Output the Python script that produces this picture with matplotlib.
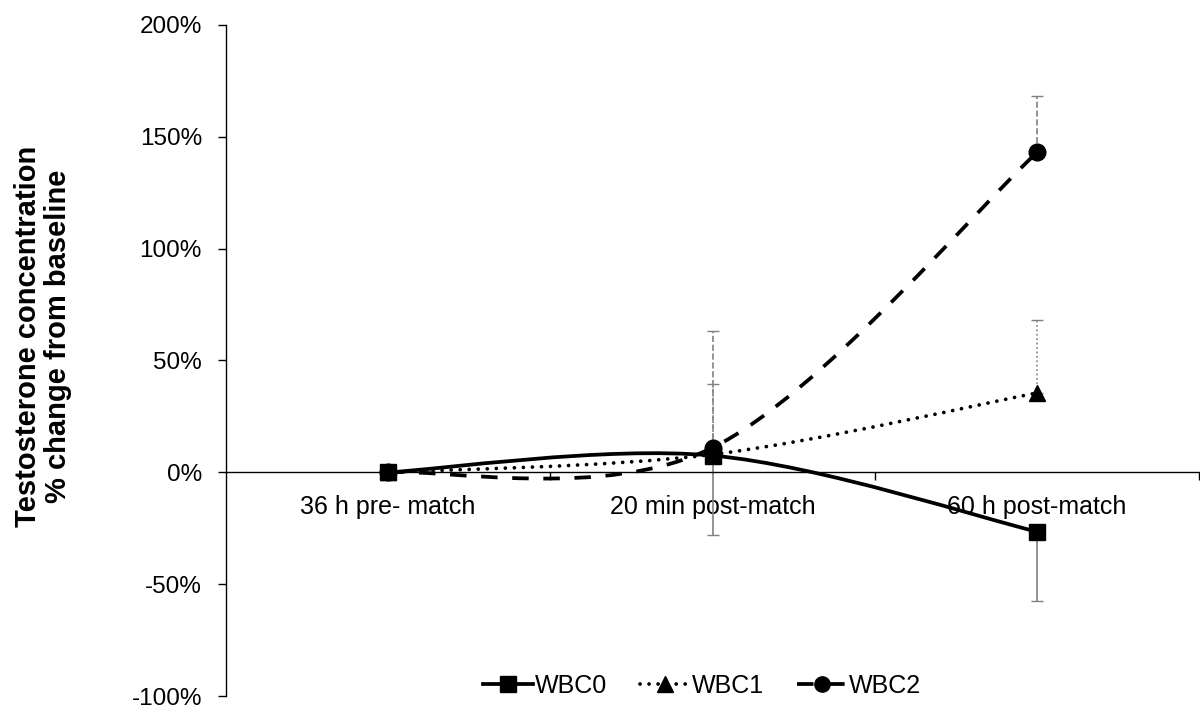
import matplotlib
matplotlib.use("Agg")
import matplotlib.pyplot as plt
from matplotlib.path import Path
from matplotlib.patches import PathPatch
from matplotlib.lines import Line2D
from matplotlib.ticker import PercentFormatter, FixedLocator

plt.rcParams["font.family"] = ["Liberation Sans", "DejaVu Sans"]
plt.rcParams["axes.unicode_minus"] = False

# Data (percent change from baseline)
categories = ["36 h pre- match", "20 min post-match", "60 h post-match"]
series_names = ["WBC0", "WBC1", "WBC2"]
wbc0 = [0, 7.5, -26.5]
wbc1 = [0, 8, 35.5]
wbc2 = [0, 11, 143]
# error bars (only drawn at the two post-match points)
wbc0_err_low = [35.5, 31]
wbc1_err_up = [31.5, 32.5]
wbc2_err_up = [52, 25]

LW = 2.7
styles = {
    "WBC0": dict(ls="-", marker="s", cap="butt"),
    "WBC1": dict(ls=(0, (0.01, 2.4)), marker="^", cap="round"),
    "WBC2": dict(ls=(0, (4.4, 3.9)), marker="o", cap="butt"),
}
err_styles = {"WBC0": "-", "WBC1": ":", "WBC2": "--"}


def smooth_path(xs, ys):
    # Excel-like smoothed line: Catmull-Rom segments as cubic Bezier curves
    pts = list(zip(xs, ys))
    verts = [pts[0]]
    codes = [Path.MOVETO]
    n = len(pts)
    for i in range(n - 1):
        p0 = pts[i - 1] if i > 0 else pts[i]
        p1 = pts[i]
        p2 = pts[i + 1]
        p3 = pts[i + 2] if i + 2 < n else pts[i + 1]
        c1 = (p1[0] + (p2[0] - p0[0]) / 6, p1[1] + (p2[1] - p0[1]) / 6)
        c2 = (p2[0] - (p3[0] - p1[0]) / 6, p2[1] - (p3[1] - p1[1]) / 6)
        verts += [c1, c2, p2]
        codes += [Path.CURVE4] * 3
    return Path(verts, codes)


fig = plt.figure(figsize=(12, 7.11), dpi=100)
ax = fig.add_axes([0.188, 0.021, 0.8115, 0.944])

x = list(range(len(categories)))
xe = x[1:]

# error bars
eb = ax.errorbar(xe, wbc0[1:], yerr=[wbc0_err_low, [0, 0]], fmt="none",
                 ecolor="#808080", elinewidth=1.2, capsize=4, zorder=2)
eb.lines[2][0].set_linestyle(err_styles["WBC0"])
eb = ax.errorbar(xe, wbc1[1:], yerr=[[0, 0], wbc1_err_up], fmt="none",
                 ecolor="#808080", elinewidth=1.2, capsize=4, zorder=2)
eb.lines[2][0].set_linestyle(err_styles["WBC1"])
eb = ax.errorbar(xe, wbc2[1:], yerr=[[0, 0], wbc2_err_up], fmt="none",
                 ecolor="#808080", elinewidth=1.2, capsize=4, zorder=2)
eb.lines[2][0].set_linestyle(err_styles["WBC2"])

handles = []
for name, vals in zip(series_names, [wbc0, wbc1, wbc2]):
    st = styles[name]
    patch = PathPatch(smooth_path(x, vals), facecolor="none", edgecolor="black",
                      lw=LW, ls=st["ls"], capstyle=st["cap"], zorder=3)
    ax.add_patch(patch)
    ax.plot(x, vals, ls="none", marker=st["marker"], ms=12, color="black", zorder=4)
    h = Line2D([], [], color="black", lw=LW, ls=st["ls"], marker=st["marker"], ms=11)
    h.set_dash_capstyle(st["cap"])
    handles.append(h)

ax.set_xlim(-0.5, 2.5)
ax.set_ylim(-100, 200)
ax.set_yticks([-100, -50, 0, 50, 100, 150, 200])
ax.yaxis.set_major_formatter(PercentFormatter(decimals=0))

ax.spines["top"].set_visible(False)
ax.spines["right"].set_visible(False)
ax.spines["bottom"].set_position(("data", 0))
ax.spines["left"].set_color("black")
ax.spines["bottom"].set_color("black")
ax.spines["left"].set_linewidth(1.0)
ax.spines["bottom"].set_linewidth(1.0)

ax.xaxis.set_major_locator(FixedLocator([0.5, 1.5, 2.5]))
ax.xaxis.set_major_formatter(plt.NullFormatter())
ax.xaxis.set_minor_locator(FixedLocator(x))
ax.set_xticklabels(categories, minor=True)
ax.tick_params(axis="x", which="major", direction="out", length=6, width=1)
ax.tick_params(axis="x", which="minor", length=0, pad=16, labelsize=18)
ax.tick_params(axis="y", direction="out", length=6, width=1, pad=11, labelsize=17.5)

fig.text(0.036, 0.527, "Testosterone concentration\n% change from baseline",
         rotation=90, ha="center", va="center", fontsize=21, fontweight="bold",
         linespacing=1.1)

ax.legend(handles, series_names, loc="center", bbox_to_anchor=(0.585, 0.035),
          bbox_transform=fig.transFigure, ncol=3, frameon=False, fontsize=18,
          handlelength=2.0, handletextpad=0.1, columnspacing=1.3)

fig.savefig("out.png", dpi=100)
